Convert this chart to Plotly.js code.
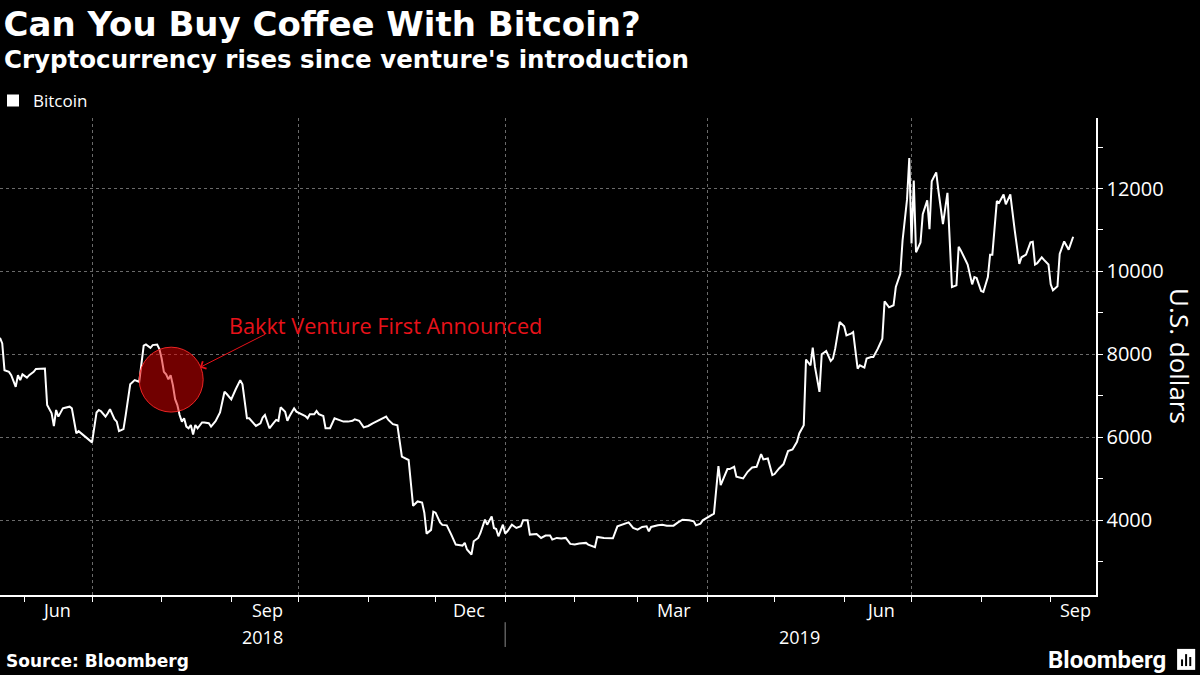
<!DOCTYPE html>
<html>
<head>
<meta charset="utf-8">
<script src="https://cdn.plot.ly/plotly-3.0.1.min.js"></script>
<style>
  html, body { margin: 0; padding: 0; background: #000; }
  #chart { width: 1200px; height: 675px; }
</style>
</head>
<body>
<div id="chart"></div>
<script>
// ---- Data ----
const dates = [
  '2018-05-21','2018-05-22','2018-05-23','2018-05-25','2018-05-26','2018-05-27','2018-05-28','2018-05-29','2018-05-30','2018-05-31',
  '2018-06-02','2018-06-03','2018-06-05','2018-06-06','2018-06-07','2018-06-09','2018-06-10','2018-06-11','2018-06-13','2018-06-14',
  '2018-06-15','2018-06-16','2018-06-18','2018-06-19','2018-06-21','2018-06-22','2018-06-24','2018-06-25','2018-06-27','2018-06-29',
  '2018-07-01','2018-07-03','2018-07-04','2018-07-05','2018-07-07','2018-07-08','2018-07-09','2018-07-11','2018-07-12','2018-07-13',
  '2018-07-15','2018-07-16','2018-07-18','2018-07-20','2018-07-22','2018-07-24','2018-07-25','2018-07-27','2018-07-28','2018-07-30',
  '2018-07-31','2018-08-01','2018-08-02','2018-08-03','2018-08-04','2018-08-05','2018-08-06','2018-08-07','2018-08-08','2018-08-09',
  '2018-08-10','2018-08-11','2018-08-12','2018-08-13','2018-08-14','2018-08-15','2018-08-16','2018-08-17','2018-08-19','2018-08-20',
  '2018-08-22','2018-08-23','2018-08-25','2018-08-27','2018-08-28','2018-08-29','2018-08-30','2018-09-01','2018-09-03','2018-09-05',
  '2018-09-06','2018-09-08','2018-09-09','2018-09-11','2018-09-12','2018-09-14','2018-09-15','2018-09-16','2018-09-18','2018-09-20',
  '2018-09-21','2018-09-22','2018-09-23','2018-09-25','2018-09-26','2018-09-27','2018-09-29','2018-09-30','2018-10-02','2018-10-04',
  '2018-10-05','2018-10-06','2018-10-08','2018-10-09','2018-10-10','2018-10-12','2018-10-13','2018-10-15','2018-10-17','2018-10-19',
  '2018-10-21','2018-10-23','2018-10-25','2018-10-26','2018-10-28','2018-10-30','2018-11-01','2018-11-03','2018-11-05','2018-11-07',
  '2018-11-09','2018-11-10','2018-11-12','2018-11-14','2018-11-16','2018-11-19','2018-11-20','2018-11-21','2018-11-23','2018-11-25',
  '2018-11-26','2018-11-27','2018-11-29','2018-11-30','2018-12-01','2018-12-03','2018-12-04','2018-12-06','2018-12-08','2018-12-10',
  '2018-12-12','2018-12-13','2018-12-14','2018-12-15','2018-12-17','2018-12-18','2018-12-20','2018-12-21','2018-12-23','2018-12-24',
  '2018-12-26','2018-12-27','2018-12-28','2018-12-29','2018-12-31','2019-01-01','2019-01-02','2019-01-04','2019-01-06','2019-01-08',
  '2019-01-09','2019-01-11','2019-01-12','2019-01-15','2019-01-17','2019-01-19','2019-01-21','2019-01-22','2019-01-24','2019-01-26',
  '2019-01-28','2019-01-30','2019-02-01','2019-02-03','2019-02-06','2019-02-07','2019-02-10','2019-02-11','2019-02-14','2019-02-16',
  '2019-02-18','2019-02-20','2019-02-22','2019-02-24','2019-02-25','2019-02-27','2019-03-01','2019-03-03','2019-03-05','2019-03-06',
  '2019-03-07','2019-03-10','2019-03-12','2019-03-14','2019-03-17','2019-03-19','2019-03-21','2019-03-24','2019-03-26','2019-03-27',
  '2019-03-29','2019-03-30','2019-03-31','2019-04-03','2019-04-04','2019-04-06','2019-04-07','2019-04-10','2019-04-11','2019-04-13',
  '2019-04-14','2019-04-17','2019-04-19','2019-04-21','2019-04-23','2019-04-25','2019-04-26','2019-04-28','2019-04-30','2019-05-01',
  '2019-05-03','2019-05-05','2019-05-07','2019-05-09','2019-05-11','2019-05-12','2019-05-14','2019-05-15','2019-05-17','2019-05-18',
  '2019-05-19','2019-05-21','2019-05-22','2019-05-24','2019-05-26','2019-05-27','2019-05-28','2019-05-30','2019-06-01','2019-06-02',
  '2019-06-04','2019-06-05','2019-06-07','2019-06-08','2019-06-10','2019-06-11','2019-06-13','2019-06-14','2019-06-16','2019-06-18',
  '2019-06-19','2019-06-21','2019-06-23','2019-06-24','2019-06-26','2019-06-27','2019-06-28','2019-06-29','2019-06-30','2019-07-01',
  '2019-07-02','2019-07-03','2019-07-05','2019-07-06','2019-07-08','2019-07-09','2019-07-10','2019-07-12','2019-07-13','2019-07-15',
  '2019-07-17','2019-07-18','2019-07-19','2019-07-21','2019-07-22','2019-07-23','2019-07-25','2019-07-26','2019-07-28','2019-07-29',
  '2019-07-30','2019-08-01','2019-08-02','2019-08-04','2019-08-05','2019-08-06','2019-08-08','2019-08-09','2019-08-11','2019-08-12',
  '2019-08-14','2019-08-15','2019-08-16','2019-08-18','2019-08-19','2019-08-21','2019-08-23','2019-08-24','2019-08-25','2019-08-26',
  '2019-08-28','2019-08-29','2019-08-31','2019-09-01','2019-09-02','2019-09-04','2019-09-05','2019-09-07','2019-09-09','2019-09-11'
];
const bitcoin = [
  8400,8265,7620,7580,7500,7380,7220,7500,7380,7520,
  7440,7500,7580,7650,7650,7660,7660,6780,6580,6270,
  6660,6500,6700,6715,6740,6700,6100,6150,6060,5980,
  5880,6600,6660,6630,6500,6580,6680,6440,6380,6150,
  6200,6540,7280,7380,7340,8210,8240,8160,8225,8240,
  8130,7900,7580,7520,7400,7500,7260,6920,6780,6540,
  6380,6460,6260,6220,6300,6070,6300,6220,6360,6360,
  6340,6260,6390,6600,6820,7100,7045,6915,7160,7380,
  7280,6460,6460,6320,6275,6340,6480,6540,6220,6355,
  6420,6400,6725,6620,6400,6515,6700,6620,6560,6515,
  6460,6560,6560,6635,6560,6515,6220,6220,6460,6420,
  6380,6380,6400,6435,6400,6240,6275,6340,6395,6435,
  6500,6420,6320,6290,5535,5455,4970,4350,4455,4430,
  4185,3680,3770,4210,4185,3950,3890,3880,3656,3416,
  3400,3392,3456,3296,3176,3496,3576,3696,4016,3896,
  4096,3816,3792,3616,3896,3680,3736,3896,3816,3856,
  4000,4000,3656,3672,3576,3632,3632,3536,3576,3560,
  3576,3432,3416,3440,3456,3416,3352,3600,3576,3568,
  3568,3856,3896,3920,3952,3816,3776,3840,3856,3736,
  3840,3880,3896,3872,3872,3952,4016,4000,3976,3880,
  3920,4000,4032,4136,4160,5310,4850,5236,5236,5290,
  5050,5010,5170,5275,5290,5597,5470,5493,5092,5116,
  5252,5356,5669,5709,5894,6094,6295,7875,7738,8163,
  7698,7097,8003,8083,7843,7899,8139,8781,8677,8460,
  8500,8540,7658,7738,7682,7899,7939,7939,8139,8380,
  9280,9135,9185,9625,9944,10741,11219,11737,12733,10677,
  12191,10462,10701,11378,11713,11020,12175,12390,11936,11139,
  11896,10621,9625,9665,10597,10502,10302,10167,9689,9864,
  9840,9529,9505,9864,10406,10406,11697,11657,11857,11617,
  11857,11394,10980,10183,10342,10406,10701,10717,10167,10199,
  10342,10278,10167,9689,9545,9641,10422,10725,10526,10836
];

// Axis tick labels
const yTickVals = [4000, 6000, 8000, 10000, 12000];
const quarterStarts = ['2018-07-01','2018-10-01','2019-01-01','2019-04-01','2019-07-01'];
const monthLabelDates = ['2018-06-15','2018-09-17','2018-12-16','2019-03-17','2019-06-17','2019-09-12'];
const monthLabels = ['Jun','Sep','Dec','Mar','Jun','Sep'];
const yearLabelDates = ['2018-09-15','2019-05-12'];
const yearLabels = ['2018','2019'];
const yearBoundary = '2019-01-01';

// Annotation: Bakkt announcement
const eventLabel = 'Bakkt Venture First Announced';
const eventCircle = {x0: '2018-07-22', x1: '2018-08-19 12:00', y0: 6610, y1: 8175};
const eventArrowPoint = {x: '2018-08-18', y: 7686};

const RED = '#e8121a';
const FONT = 'Open Sans, Noto Sans, sans-serif';
const BOLD = 'DejaVu Sans, sans-serif';

const traces = [
  {
    type: 'scatter', mode: 'lines', x: dates, y: bitcoin, name: 'Bitcoin',
    line: {color: '#ffffff', width: 2}, showlegend: false, hoverinfo: 'x+y'
  },
  {
    type: 'bar', x: [dates[0]], y: [null], name: 'Bitcoin',
    marker: {color: '#ffffff'}, showlegend: true, hoverinfo: 'skip'
  }
];

const annotations = [];
monthLabelDates.forEach((d, i) => annotations.push({
  xref: 'x', yref: 'paper', x: d, y: -0.0314, yanchor: 'middle', xanchor: 'center',
  text: monthLabels[i], showarrow: false, font: {family: FONT, size: 18, color: '#ffffff'}
}));
yearLabelDates.forEach((d, i) => annotations.push({
  xref: 'x', yref: 'paper', x: d, y: -0.088, yanchor: 'middle', xanchor: 'center',
  text: yearLabels[i], showarrow: false, font: {family: FONT, size: 18, color: '#ffffff'}
}));
annotations.push(
  {xref: 'paper', yref: 'paper', x: 1.077, y: 0.5, text: 'U.S. dollars', textangle: 90,
   showarrow: false, xanchor: 'center', yanchor: 'middle',
   font: {family: FONT, size: 26, color: '#ffffff'}},
  {xref: 'paper', yref: 'paper', x: 227 / 1096, y: 0.564, xanchor: 'left', yanchor: 'middle',
   text: eventLabel, showarrow: false, font: {family: FONT, size: 21.7, color: RED}},
  {xref: 'x', yref: 'y', x: eventArrowPoint.x, y: eventArrowPoint.y, text: '',
   showarrow: true, arrowhead: 4, arrowsize: 1.6, arrowwidth: 1, arrowcolor: RED,
   axref: 'pixel', ayref: 'pixel', ax: 67, ay: -34, standoff: 0},
  {xref: 'paper', yref: 'paper', x: 0.002, y: 1.1216, xanchor: 'left', yanchor: 'middle',
   text: "<b>Cryptocurrency rises since venture's introduction</b>", showarrow: false,
   font: {family: BOLD, size: 24.5, color: '#ffffff'}},
  {xref: 'paper', yref: 'paper', x: 0.004, y: -0.138, xanchor: 'left', yanchor: 'middle',
   text: '<b>Source: Bloomberg</b>', showarrow: false,
   font: {family: BOLD, size: 17, color: '#ffffff'}},
  {xref: 'paper', yref: 'paper', x: 1168 / 1096, y: -0.136, xanchor: 'right', yanchor: 'middle',
   text: '<b>Bloomberg</b>', showarrow: false,
   font: {family: 'Roboto, sans-serif', size: 24, color: '#ffffff'}}
);

const shapes = [
  {type: 'circle', xref: 'x', yref: 'y', x0: eventCircle.x0, x1: eventCircle.x1,
   y0: eventCircle.y0, y1: eventCircle.y1, layer: 'above',
   fillcolor: 'rgba(225,0,0,0.5)', line: {color: 'rgba(255,40,40,0.9)', width: 1}},
  {type: 'line', xref: 'x', yref: 'paper', x0: yearBoundary, x1: yearBoundary,
   y0: -0.057, y1: -0.109, line: {color: '#8a8a8a', width: 1}},
  // Bloomberg logo mark
  {type: 'rect', xref: 'paper', yref: 'paper', x0: 1.074, x1: 1.0905, y0: -0.157, y1: -0.113,
   fillcolor: '#ffffff', line: {width: 0}},
  {type: 'line', xref: 'paper', yref: 'paper', x0: 1.0785, x1: 1.0785, y0: -0.149, y1: -0.135, line: {color: '#000', width: 2}},
  {type: 'line', xref: 'paper', yref: 'paper', x0: 1.0822, x1: 1.0822, y0: -0.149, y1: -0.124, line: {color: '#000', width: 2}},
  {type: 'line', xref: 'paper', yref: 'paper', x0: 1.0860, x1: 1.0860, y0: -0.149, y1: -0.130, line: {color: '#000', width: 2}}
];

const layout = {
  width: 1200, height: 675,
  paper_bgcolor: '#000000', plot_bgcolor: '#000000',
  margin: {l: 0, r: 104, t: 118, b: 80},
  font: {family: FONT, color: '#ffffff'},
  title: {
    text: '<b>Can You Buy Coffee With Bitcoin?</b>',
    xref: 'container', yref: 'container', x: 0.003, xanchor: 'left', y: 0.9644, yanchor: 'middle',
    font: {family: BOLD, size: 34, color: '#ffffff'}
  },
  showlegend: true,
  legend: {x: 0, y: 1.036, xanchor: 'left', yanchor: 'middle', orientation: 'h',
           indentation: -7,
           bgcolor: 'rgba(0,0,0,0)', font: {family: FONT, size: 17, color: '#ffffff'},
           itemwidth: 30},
  xaxis: {
    type: 'date', range: ['2018-05-21', '2019-09-21 04:00'],
    tickmode: 'array', tickvals: quarterStarts, ticktext: quarterStarts.map(() => ''),
    showgrid: true, gridcolor: '#6a6a6a', griddash: 'dot', gridwidth: 1,
    ticks: 'outside', ticklen: 5, tickcolor: '#ffffff', tickwidth: 1,
    showline: true, linecolor: '#ffffff', linewidth: 1.5,
    minor: {dtick: 'M1', tick0: '2018-06-01', ticks: 'outside', ticklen: 5,
            tickcolor: '#ffffff', tickwidth: 1, showgrid: false},
    zeroline: false, fixedrange: true
  },
  yaxis: {
    side: 'right', range: [2200, 13700],
    tickmode: 'array', tickvals: yTickVals, ticktext: yTickVals.map(String),
    showgrid: true, gridcolor: '#6a6a6a', griddash: 'dot', gridwidth: 1,
    ticks: 'outside', ticklen: 5, tickcolor: '#ffffff', tickwidth: 1,
    showline: true, linecolor: '#ffffff', linewidth: 1.5,
    tickfont: {family: FONT, size: 20, color: '#ffffff'},
    minor: {dtick: 1000, tick0: 0, ticks: 'outside', ticklen: 5,
            tickcolor: '#ffffff', tickwidth: 1, showgrid: false},
    zeroline: false, fixedrange: true
  },
  annotations: annotations,
  shapes: shapes,
  bargap: 0.2
};

Plotly.newPlot('chart', traces, layout, {displayModeBar: false, staticPlot: true});
</script>
</body>
</html>
